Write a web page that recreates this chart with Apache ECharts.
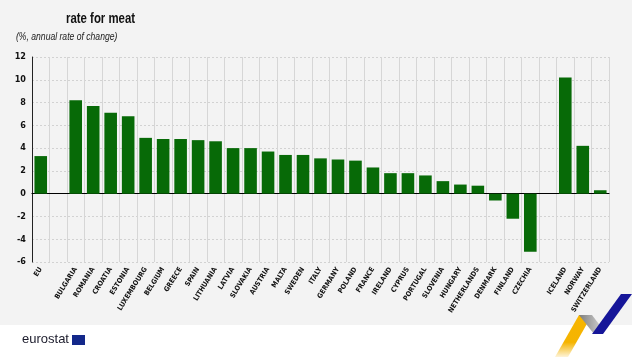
<!DOCTYPE html>
<html>
<head>
<meta charset="utf-8">
<script src="https://cdn.jsdelivr.net/npm/echarts@6/dist/echarts.min.js"></script>
<style>
html,body{margin:0;padding:0;background:#fff;}
#c{width:632px;height:360px;}
</style>
</head>
<body>
<div id="c"></div>
<script>
var categories = ['EU','', 'BULGARIA','ROMANIA','CROATIA','ESTONIA','LUXEMBOURG','BELGIUM','GREECE','SPAIN','LITHUANIA','LATVIA','SLOVAKIA','AUSTRIA','MALTA','SWEDEN','ITALY','GERMANY','POLAND','FRANCE','IRELAND','CYPRUS','PORTUGAL','SLOVENIA','HUNGARY','NETHERLANDS','DENMARK','FINLAND','CZECHIA','', 'ICELAND','NORWAY','SWITZERLAND'];
var values = [3.3, null, 8.2, 7.7, 7.1, 6.8, 4.9, 4.8, 4.8, 4.7, 4.6, 4.0, 4.0, 3.7, 3.4, 3.4, 3.1, 3.0, 2.9, 2.3, 1.8, 1.8, 1.6, 1.1, 0.8, 0.7, -0.6, -2.2, -5.1, null, 10.2, 4.2, 0.3];
var yTicks = [-6, -4, -2, 0, 2, 4, 6, 8, 10, 12];
var titleText = 'rate for meat';
var subtitleText = '(%, annual rate of change)';

var chart = echarts.init(document.getElementById('c'), null, {renderer:'canvas'});
var condensed = '"Liberation Sans Narrow","DejaVu Sans Condensed",sans-serif';
chart.setOption({
  backgroundColor: '#ffffff',
  animation: false,
  graphic: [
    {type: 'rect', z: -10, silent: true, shape: {x: 0, y: 0, width: 632, height: 325}, style: {fill: '#f3f3f3'}},
    {type: 'text', x: 66, y: 11, scaleX: 0.76, style: {text: titleText, font: 'bold 15px "Liberation Sans",sans-serif', fill: '#111'}},
    {type: 'text', x: 16, y: 32, scaleX: 0.86, style: {text: subtitleText, font: 'italic 10px "Liberation Sans",sans-serif', fill: '#222'}},
    {type: 'text', x: 22, y: 333, style: {text: 'eurostat', font: '500 13px "Liberation Sans","DejaVu Sans",sans-serif', fill: '#1b1b2b'}},
    {type: 'rect', shape: {x: 72, y: 335, width: 13, height: 10}, style: {fill: '#13288a'}},
    {type: 'polygon', shape: {points: [[555,357],[579,315],[592,315],[568,357]]},
      style: {fill: new echarts.graphic.LinearGradient(0,1,0,0,[{offset:0,color:'rgba(245,180,0,0.15)'},{offset:0.35,color:'#f5b400'},{offset:1,color:'#f7b500'}])}},
    {type: 'polygon', shape: {points: [[579,315],[592,315],[605,332],[594,334]]},
      style: {fill: new echarts.graphic.LinearGradient(0,0,1,0,[{offset:0,color:'#7d7d7d'},{offset:1,color:'#dcdcdc'}])}},
    {type: 'polygon', shape: {points: [[592,334],[621,294],[632,294],[603,334]]}, style: {fill: '#161699'}}
  ],
  grid: {left: 32, right: 23, top: 57, bottom: 98, containLabel: false},
  xAxis: {
    type: 'category',
    data: categories,
    axisLine: {onZero: true, lineStyle: {color: '#000', width: 1.2}},
    axisTick: {show: false},
    splitLine: {show: true, interval: 0, lineStyle: {color: '#d6d6d6', width: 1}},
    axisLabel: {interval: 0, rotate: 58, fontFamily: condensed, fontWeight: 'bold', fontSize: 7, color: '#111', margin: 6}
  },
  yAxis: {
    type: 'value',
    min: -6, max: 12, interval: 2,
    axisLine: {show: true, lineStyle: {color: '#222', width: 1}},
    axisTick: {show: false},
    splitLine: {show: true, lineStyle: {color: '#d2d2d2', type: [2,2], width: 1}},
    axisLabel: {fontFamily: condensed, fontWeight: 'bold', fontSize: 9, color: '#111', margin: 6,
      formatter: function(v){ return yTicks.indexOf(v) >= 0 ? String(v) : ''; }}
  },
  series: [{
    type: 'bar',
    data: values,
    barCategoryGap: '28%',
    itemStyle: {color: '#076a07'}
  }]
});
</script>
</body>
</html>
